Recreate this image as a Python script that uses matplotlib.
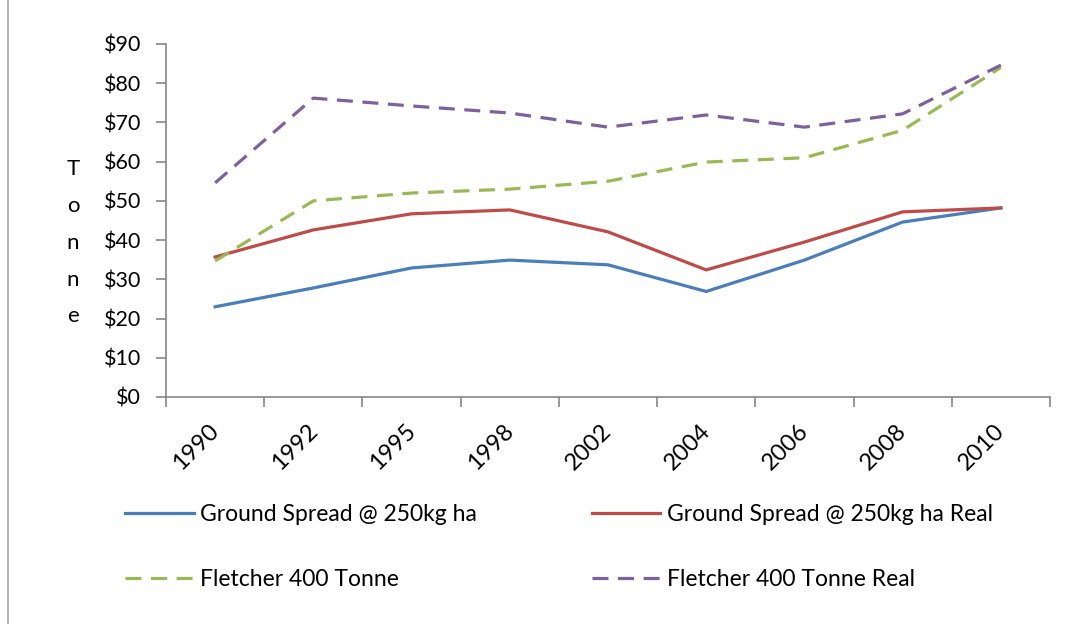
import numpy as np
import matplotlib.pyplot as plt
import matplotlib.transforms as mtransforms
from matplotlib.lines import Line2D

plt.rcParams['font.family'] = ['Lato', 'DejaVu Sans']

years = ['1990', '1992', '1995', '1998', '2002', '2004', '2006', '2008', '2010']
ground = [23, 27.8, 32.9, 34.9, 33.7, 26.9, 34.9, 44.6, 48.2]
ground_real = [35.7, 42.6, 46.7, 47.7, 42.1, 32.4, 39.5, 47.2, 48.2]
fletcher = [34.7, 50, 52, 53, 55, 59.9, 61, 68, 84]
fletcher_real = [54.6, 76.2, 74.2, 72.4, 68.8, 71.9, 68.8, 72.2, 84.6]

names = ['Ground Spread @ 250kg ha', 'Ground Spread @ 250kg ha Real',
         'Fletcher 400 Tonne', 'Fletcher 400 Tonne Real']
colors = ['#4A7EBB', '#BE4B48', '#98B954', '#7D60A0']

fig = plt.figure(figsize=(10.67, 6.24), dpi=100)
ax = fig.add_axes([0.1556, 0.3638, 0.8284, 0.5657])

x = np.arange(len(years))
lw = 2.3
dash = (5.0, 3.0)
ax.plot(x, ground, color=colors[0], lw=lw)
ax.plot(x, ground_real, color=colors[1], lw=lw)
ax.plot(x, fletcher, color=colors[2], lw=lw, dashes=dash)
ax.plot(x, fletcher_real, color=colors[3], lw=lw, dashes=dash)

grey = '#868686'
ax.set_xlim(-0.5, len(years) - 0.5)
ax.set_ylim(0, 90)
ax.set_yticks(range(0, 91, 10))
ax.set_yticklabels(['$%d' % v for v in range(0, 91, 10)], fontsize=15.5)
ax.set_xticks(x)
ax.set_xticklabels(years, fontsize=17, rotation=45, ha='right', va='center',
                   rotation_mode='anchor')
ax.set_xticks(np.arange(-0.5, len(years)), minor=True)
ax.tick_params(axis='x', which='major', length=0, pad=22)
ax.tick_params(axis='x', which='minor', length=7, color=grey, width=1.2)
ax.tick_params(axis='y', length=7, color=grey, width=1.2, pad=11)
for s in ['top', 'right']:
    ax.spines[s].set_visible(False)
for s in ['left', 'bottom']:
    ax.spines[s].set_color(grey)
    ax.spines[s].set_linewidth(1.2)

# nudge rotated labels so they sit under their category
off = mtransforms.ScaledTranslation(0.005, 0.0, fig.dpi_scale_trans)
for lab in ax.get_xticklabels():
    lab.set_transform(lab.get_transform() + off)

fig.text(0.0685, 0.745, 'T\no\nn\nn\ne', fontsize=16, ha='center', va='top',
         linespacing=2.05)

fs = 16.5
handles = [Line2D([], [], color=colors[0], lw=lw),
           Line2D([], [], color=colors[2], lw=lw, dashes=dash),
           Line2D([], [], color=colors[1], lw=lw),
           Line2D([], [], color=colors[3], lw=lw, dashes=dash)]
labels = [names[0], names[2], names[1], names[3]]
fig.legend(handles, labels, ncol=2, frameon=False, fontsize=fs,
           loc='upper left', bbox_to_anchor=(0.109, 0.207), handlelength=2.97,
           handletextpad=0.3, columnspacing=5.0, labelspacing=1.92,
           borderaxespad=0)

fig.add_artist(Line2D([0.0075, 0.0075], [0, 1], color='#a6a6a6', lw=1.2,
                      transform=fig.transFigure))

fig.savefig('out.png', dpi=100)
